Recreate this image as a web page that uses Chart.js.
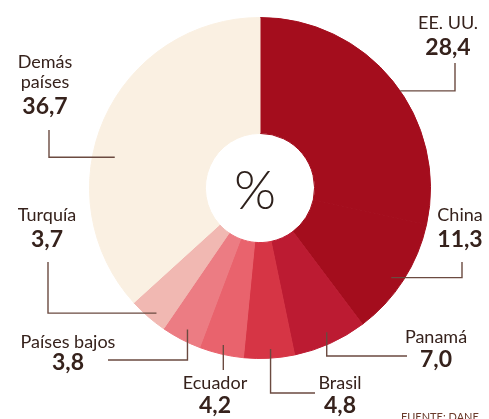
<!DOCTYPE html>
<html>
<head>
<meta charset="utf-8">
<script src="https://cdn.jsdelivr.net/npm/chart.js@4"></script>
<style>
  html, body { margin: 0; padding: 0; background: #ffffff; }
  #wrap { width: 489px; height: 419px; position: relative; }
</style>
</head>
<body>
<div id="wrap"><canvas id="chartExport"></canvas></div>
<script>
const paises = ["EE. UU.", "China", "Panamá", "Brasil", "Ecuador", "Países bajos", "Turquía", "Demás países"];
const participacion = [28.4, 11.3, 7.0, 4.8, 4.2, 3.8, 3.7, 36.7];
const colores = ["#a40d1d", "#a40d1d", "#bc1b32", "#d63545", "#e9636d", "#ec7c83", "#f1b8b2", "#faf0e2"];

// where each label sits and how its leader line bends
const etiquetas = [
    { lines: ["EE. UU."], x: 448, y: 23, vy: 48, t: 0.54, rf: 1.0, mode: "hv", ex: 455, ey: 63 },
    { lines: ["China"], x: 460, y: 215, vy: 240, t: 0.54, rf: 0.9, mode: "hv", ex: 462, ey: 262 },
    { lines: ["Panamá"], x: 436, y: 337, vy: 360, t: 0.48, rf: 0.9, mode: "vh", ex: 407, ey: 356 },
    { lines: ["Brasil"], x: 340, y: 383, vy: 406, t: 0.46, rf: 0.92, mode: "vh", ex: 315, ey: 393 },
    { lines: ["Ecuador"], x: 215, y: 383, vy: 406, t: 0.5, rf: 0.92, mode: "v", ex: 0, ey: 370 },
    { lines: ["Países bajos"], x: 68, y: 342, vy: 363, t: 0.47, rf: 0.9, mode: "vh", ex: 108, ey: 360 },
    { lines: ["Turquía"], x: 47, y: 215, vy: 240, t: 0.39, rf: 0.93, mode: "hv", ex: 48, ey: 262 },
    { lines: ["Demás", "países"], x: 45, y: 62, vy: 107, t: 0.41, rf: 0.81, mode: "hv", ex: 49, ey: 130 },
];

const textColor = "#36221c";
const lineColor = "#6b4a40";

const labelsPlugin = {
    id: "labelsPlugin",
    afterDatasetsDraw(chart) {
        const ctx = chart.ctx;
        const arcs = chart.getDatasetMeta(0).data;
        ctx.save();
        ctx.strokeStyle = lineColor;
        ctx.lineWidth = 1.4;
        arcs.forEach((arc, i) => {
            const e = etiquetas[i];
            const a = arc.startAngle + e.t * (arc.endAngle - arc.startAngle);
            const r = arc.innerRadius + e.rf * (arc.outerRadius - arc.innerRadius);
            const ax = arc.x + Math.cos(a) * r;
            const ay = arc.y + Math.sin(a) * r;
            ctx.beginPath();
            ctx.moveTo(ax, ay);
            if (e.mode === "hv") {
                ctx.lineTo(e.ex, ay);
                ctx.lineTo(e.ex, e.ey);
            } else if (e.mode === "vh") {
                ctx.lineTo(ax, e.ey);
                ctx.lineTo(e.ex, e.ey);
            } else {
                ctx.lineTo(ax, e.ey);
            }
            ctx.stroke();

            ctx.fillStyle = textColor;
            ctx.textAlign = "center";
            ctx.textBaseline = "middle";
            ctx.font = "18px Lato";
            e.lines.forEach((l, k) => ctx.fillText(l, e.x, e.y + k * 20));
            ctx.font = "bold 23px Lato";
            ctx.fillText(participacion[i].toFixed(1).replace(".", ","), e.x, e.vy);
        });

        // center symbol
        ctx.font = "300 54px Lato";
        ctx.fillStyle = "#2e211c";
        ctx.fillText("%", arcs[0].x - 5, arcs[0].y + 4);

        ctx.font = "11px Lato";
        ctx.fillStyle = "#6a3a2a";
        ctx.textAlign = "left";
        ctx.textBaseline = "alphabetic";
        ctx.fillText("FUENTE: DANE", 401, 421);
        ctx.restore();
    }
};

new Chart(document.getElementById("chartExport"), {
    type: "doughnut",
    data: {
        labels: paises,
        datasets: [{
            data: participacion,
            backgroundColor: colores,
            borderColor: colores,
            borderWidth: 1
        }]
    },
    options: {
        responsive: true,
        maintainAspectRatio: false,
        animation: false,
        cutout: "32%",
        layout: {
            padding: { left: 89, right: 58, top: 17, bottom: 60 }
        },
        plugins: {
            legend: { display: false },
            tooltip: { enabled: false }
        }
    },
    plugins: [labelsPlugin]
});
</script>
</body>
</html>
